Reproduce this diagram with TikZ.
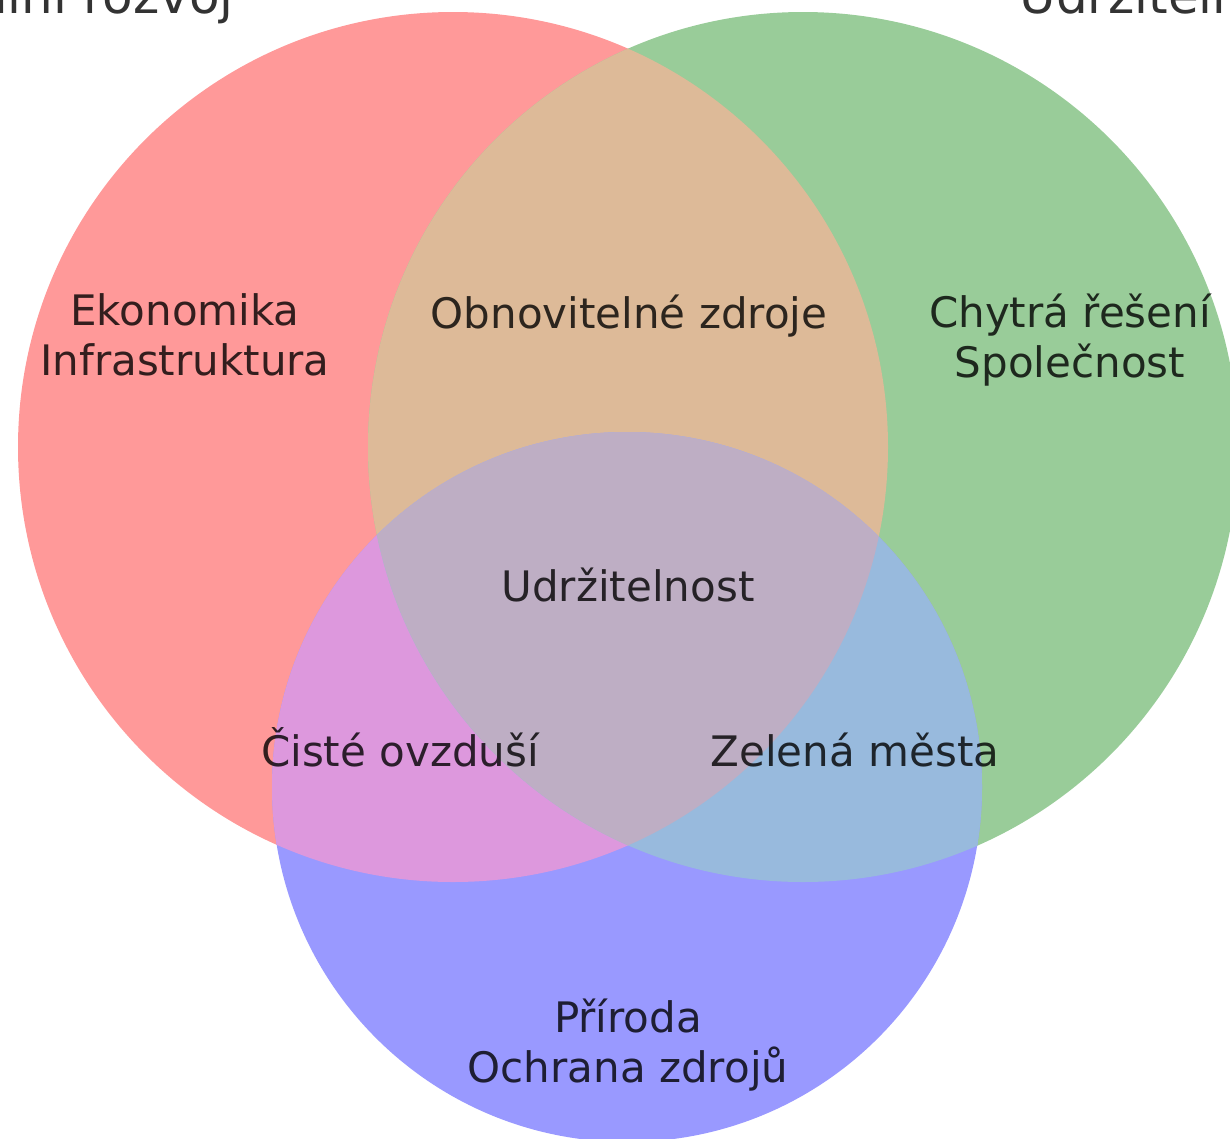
\documentclass[tikz,border=0pt]{standalone}
\usepackage{fontspec}
\setmainfont{DejaVu Sans}

\definecolor{cervena}{RGB}{255,153,153}
\definecolor{zelena}{RGB}{153,204,153}
\definecolor{modra}{RGB}{153,153,255}
\definecolor{bezova}{RGB}{221,186,152}
\definecolor{ruzova}{RGB}{221,152,221}
\definecolor{sedomodra}{RGB}{152,186,221}
\definecolor{fialova}{RGB}{190,174,196}

\tikzset{
	popis/.style={text=black, text opacity=0.8, font=\fontsize{42}{50}\selectfont, align=center},
	nadpis/.style={text=black, text opacity=0.8, font=\fontsize{50}{60}\selectfont}
}

\begin{document}
\begin{tikzpicture}[x=1pt,y=-1pt]
	
	\useasboundingbox (0,0) rectangle (1230,1138);
	\clip (0,0) rectangle (1230,1138);
	
	%Kruhy
	\fill[cervena] (453,447) circle[radius=435]; %levy kruh
	\fill[zelena] (803,447) circle[radius=435]; %pravy kruh
	\fill[modra] (627,787) circle[radius=355]; %dolni kruh
	
	%Prekryvy
	\begin{scope}
		\clip (453,447) circle[radius=435];
		\fill[bezova] (803,447) circle[radius=435];
		\fill[ruzova] (627,787) circle[radius=355];
	\end{scope}
	\begin{scope}
		\clip (803,447) circle[radius=435];
		\fill[sedomodra] (627,787) circle[radius=355];
		\clip (453,447) circle[radius=435];
		\fill[fialova] (627,787) circle[radius=355]; %stred
	\end{scope}
	
	%Nadpisy mnozin
	\node[nadpis, anchor=base east] (rozvoj) at (237,13) {Sociální rozvoj};
	\node[nadpis, anchor=base west] (udrz) at (1016,13) {Udržitelné technologie};
	
	%Popisy oblasti (base = posledni radek)
	\node[popis, anchor=base] (ekonomika) at (185,375) {Ekonomika\\Infrastruktura};
	\node[popis, anchor=base] (obnov) at (629,328) {Obnovitelné zdroje};
	\node[popis, anchor=base] (chytra) at (1070,377) {Chytrá řešení\\Společnost};
	\node[popis, anchor=base] (stred) at (628,601) {Udržitelnost};
	\node[popis, anchor=base] (ovzdusi) at (400,766) {Čisté ovzduší};
	\node[popis, anchor=base] (mesta) at (855,766) {Zelená města};
	\node[popis, anchor=base] (priroda) at (628,1082) {Příroda\\Ochrana zdrojů};
	
\end{tikzpicture}
\end{document}
